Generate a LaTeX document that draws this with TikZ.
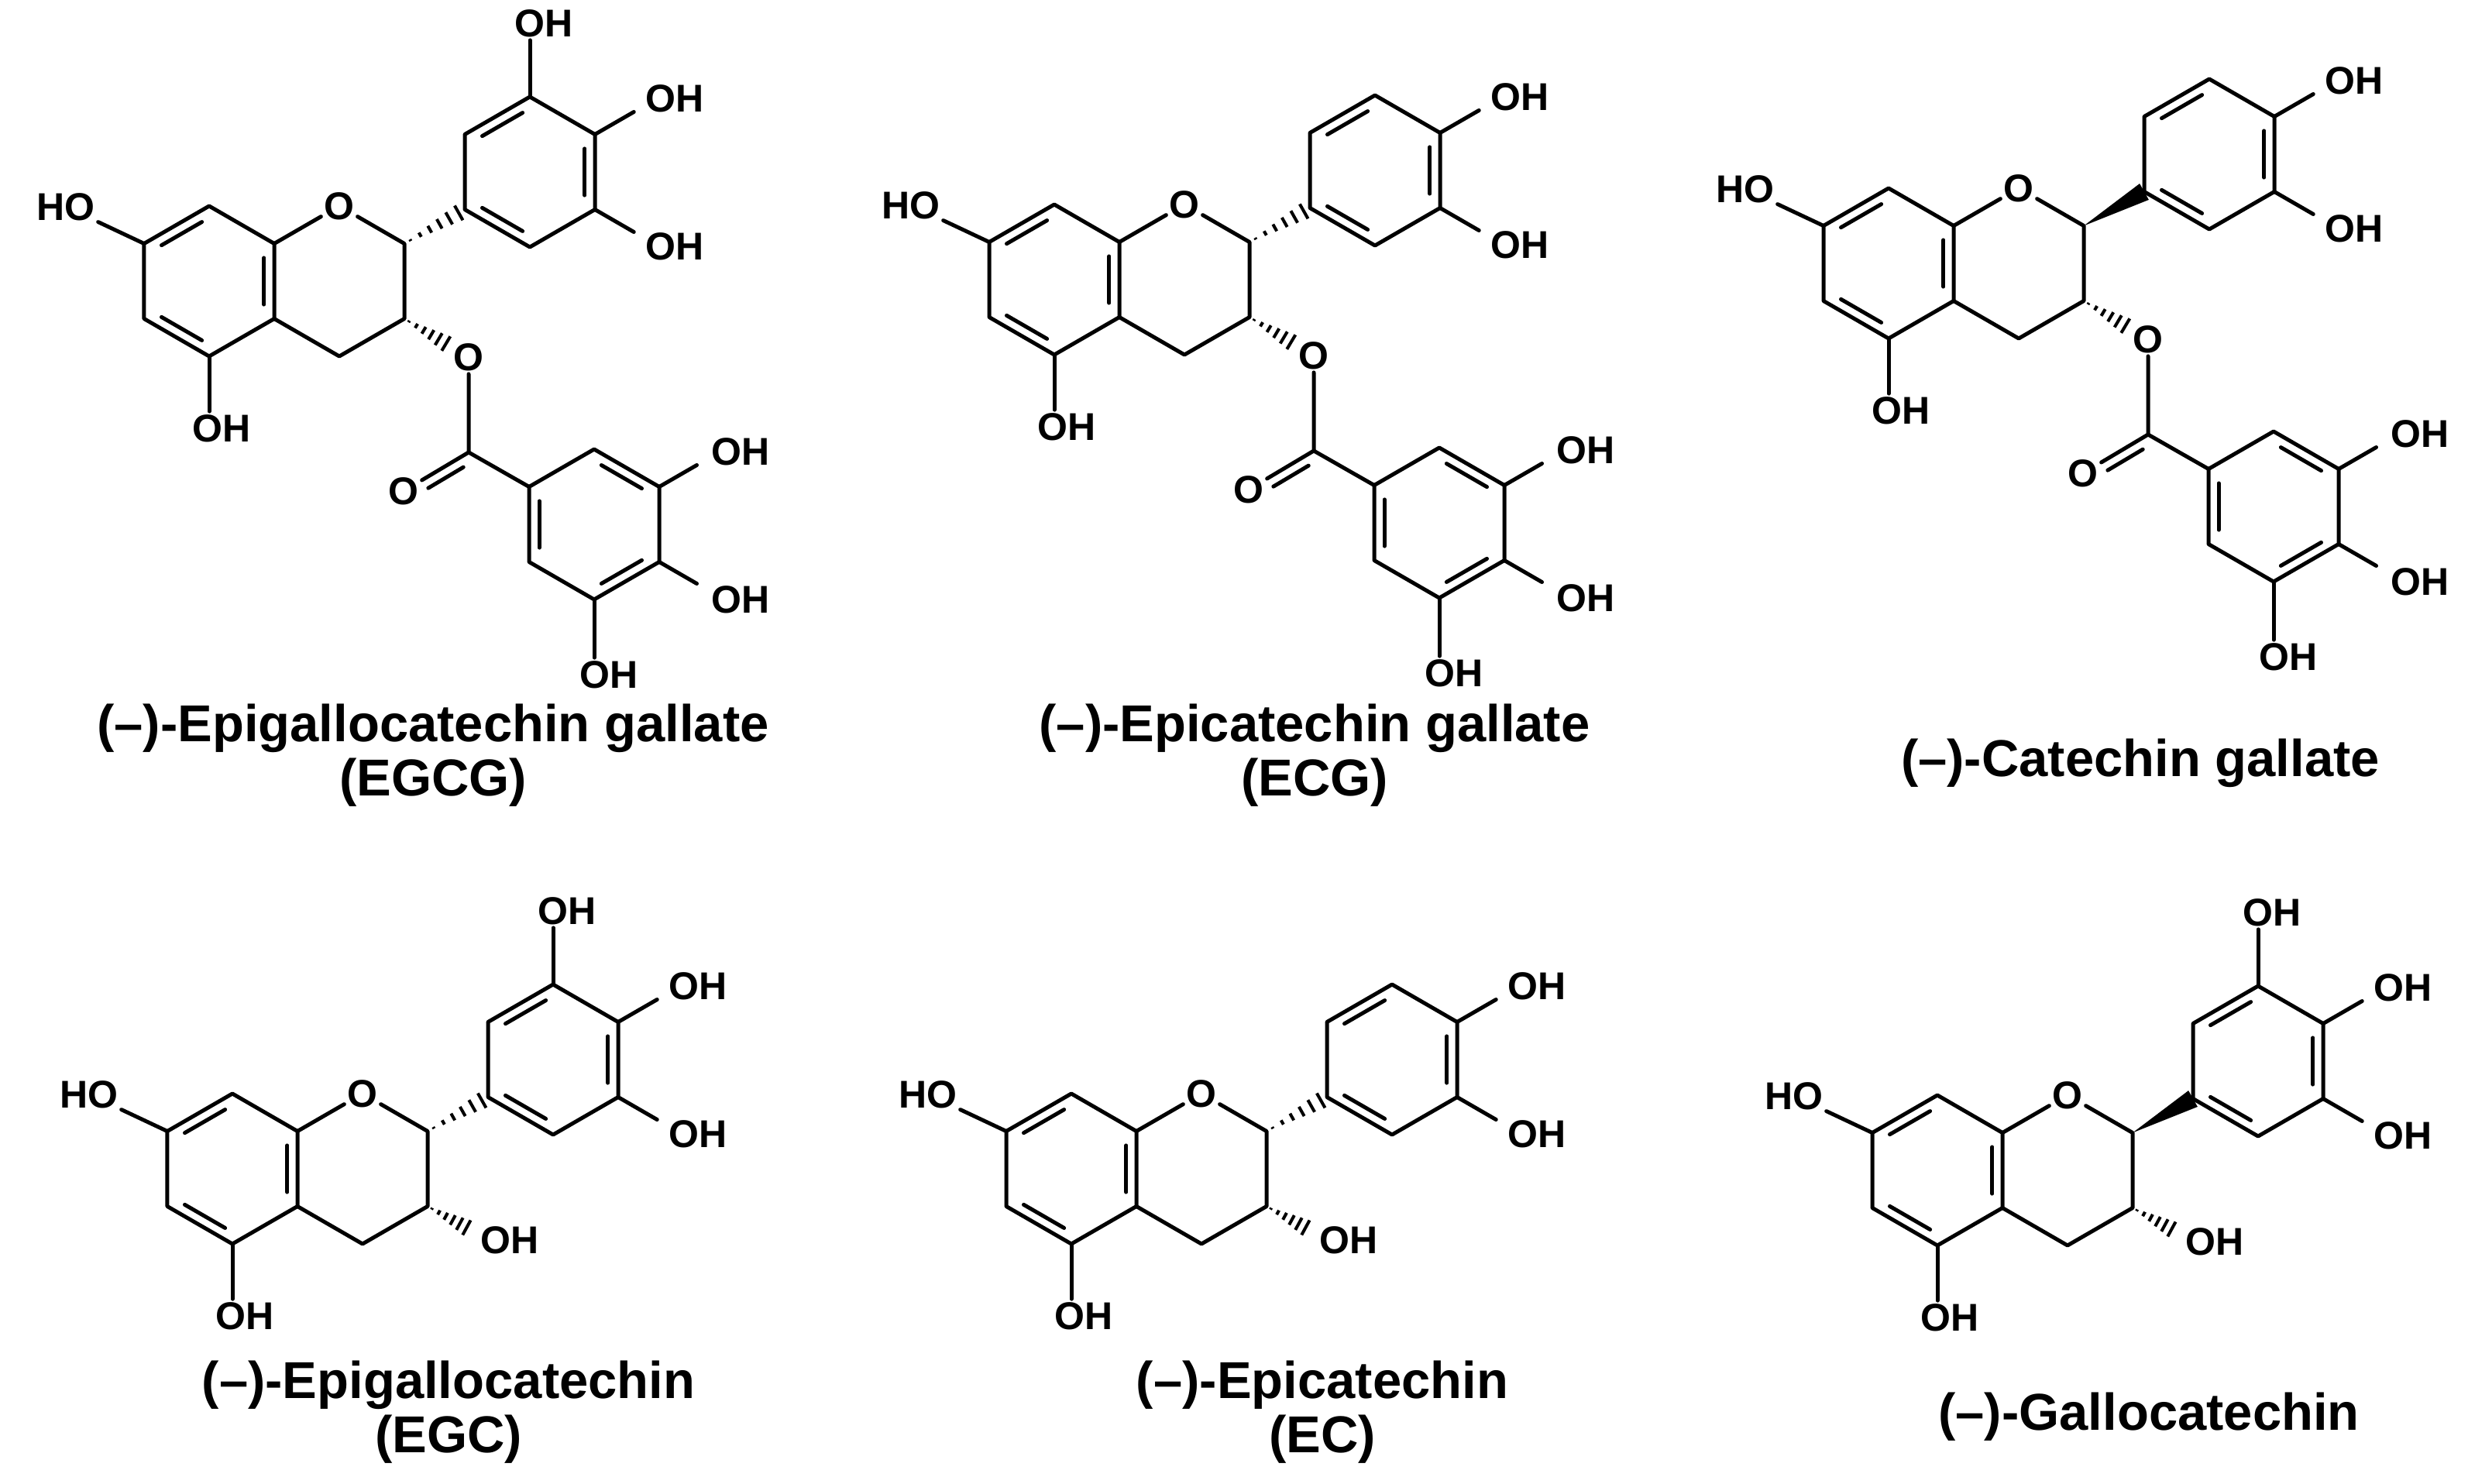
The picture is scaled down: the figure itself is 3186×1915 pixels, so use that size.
\documentclass[tikz,border=0pt]{standalone}
\usepackage{fontspec}
\setmainfont{Liberation Sans}
\usetikzlibrary{calc}
\tikzset{
  bond/.style={line width=5pt,line join=round,line cap=round},
  hashl/.style={line width=4pt},
  atom/.style={font=\fontsize{50}{50}\selectfont\bfseries,inner sep=4pt},
  title/.style={font=\fontsize{67}{70}\selectfont\bfseries,align=center},
}
\newcommand\dbl[2]{\draw[bond] ($#1+(#2+7:77)$) -- ($#1+(#2+53:77)$);}
\newcommand\hashb[2]{\foreach \t in {0.1,0.26,...,1.0}{\draw[hashl] ($(#1)!\t!(#2)!{\t*12pt}!90:(#2)$) -- ($(#1)!\t!(#2)!{\t*12pt}!-90:(#2)$);}}
\newcommand\wedgeb[2]{\fill ($(#1)$) -- ($(#2)!12pt!90:(#1)$) -- ($(#2)!12pt!-90:(#1)$) -- cycle;}
% chroman core, origin at ring O
\newcommand\Core[1]{%
  \foreach \n/\a in {t/90,ul/150,ll/210,b/270,lr/330,ur/30}{\coordinate (#1A\n) at ($(-168,-97)+(\a:97)$);}
  \draw[bond] (#1At)--(#1Aul)--(#1All)--(#1Ab)--(#1Alr)--(#1Aur)--cycle;
  \dbl{(-168,-97)}{90}\dbl{(-168,-97)}{-30}\dbl{(-168,-97)}{210}
  \node[atom] (#1O) at (0,0) {O};
  \coordinate (#1C2) at (84,-48.5);
  \coordinate (#1C3) at (84,-145.5);
  \coordinate (#1C4) at (0,-194);
  \draw[bond] (#1Aur) -- (#1O) -- (#1C2) -- (#1C3) -- (#1C4) -- (#1Alr);
  \node[atom] (#1HO) at (-353,-1) {HO};
  \draw[bond] (#1Aul) -- (#1HO);
  \node[atom] (#1OHa) at (-152,-287) {OH};
  \draw[bond] (#1Ab) -- (#1Ab |- #1OHa.north);
}
% B ring: #2 = 1 for pyrogallol (extra top OH)
\newcommand\RingB[2]{%
  \foreach \n/\a in {t/90,ul/150,ll/210,b/270,lr/330,ur/30}{\coordinate (#1B\n) at ($(246,44)+(\a:97)$);}
  \draw[bond] (#1Bt)--(#1Bul)--(#1Bll)--(#1Bb)--(#1Blr)--(#1Bur)--cycle;
  \dbl{(246,44)}{90}\dbl{(246,44)}{-30}\dbl{(246,44)}{210}
  \ifnum#2=1
    \node[atom] (#1OHt) at (264,236) {OH};
    \draw[bond] (#1Bt) -- (#1Bt |- #1OHt.south);
  \fi
  \node[atom] (#1OHur) at (433,139) {OH};
  \draw[bond] (#1Bur) -- ++(30:58) coordinate (#1eur);
  \node[atom] (#1OHlr) at (433,-52) {OH};
  \draw[bond] (#1Blr) -- ++(-30:58) coordinate (#1elr);
}
\newcommand\Gallate[1]{%
  \node[atom] (#1Oe) at (167,-195) {O};
  \coordinate (#1he) at ($(#1C3)!0.72!(#1Oe)$);
  \hashb{#1C3}{#1he}
  \foreach \n/\a in {t/90,ul/150,ll/210,b/270,lr/330,ur/30}{\coordinate (#1D\n) at ($(329,-411)+(\a:97)$);}
  \draw[bond] (#1Dt)--(#1Dul)--(#1Dll)--(#1Db)--(#1Dlr)--(#1Dur)--cycle;
  \dbl{(329,-411)}{30}\dbl{(329,-411)}{150}\dbl{(329,-411)}{270}
  \coordinate (#1Cc) at (167,-318);
  \draw[bond] (#1Oe) -- (#1Cc) -- (#1Dul);
  \node[atom] (#1Oc) at (83,-368) {O};
  \draw[bond] (#1Cc) -- (#1Oc);
  \draw[bond] ($(#1Cc)!0.16!(#1Oc)!13pt!90:(#1Oc)$) -- ($(#1Cc)!0.70!(#1Oc)!13pt!90:(#1Oc)$);
  \node[atom] (#1OHd1) at (518,-317) {OH};
  \draw[bond] (#1Dur) -- ++(30:56);
  \node[atom] (#1OHd2) at (518,-508) {OH};
  \draw[bond] (#1Dlr) -- ++(-30:56);
  \node[atom] (#1OHd3) at (348,-605) {OH};
  \draw[bond] (#1Db) -- (#1Db |- #1OHd3.north);
}
\newcommand\OHthree[1]{%
  \node[atom] (#1OH3) at (190,-189) {OH};
  \coordinate (#1h3) at (140,-176);
  \hashb{#1C3}{#1h3}
}
\begin{document}
\begin{tikzpicture}[x=1pt,y=1pt]
\useasboundingbox (0,0) rectangle (3186,-1915);
\fill[white] (0,0) rectangle (3186,-1915);
% EGCG
\begin{scope}[shift={(438,-266)}]
  \Core{a}\RingB{a}{1}\hashb{aC2}{aBll}\Gallate{a}
\end{scope}
\node[title] (tEGCG) at (559,-975) {(–)-Epigallocatechin gallate\\(EGCG)};
% ECG
\begin{scope}[shift={(1529,-264)}]
  \Core{b}\RingB{b}{0}\hashb{bC2}{bBll}\Gallate{b}
\end{scope}
\node[title] (tECG) at (1697,-975) {(–)-Epicatechin gallate\\(ECG)};
% CG
\begin{scope}[shift={(2606,-243)}]
  \Core{c}\RingB{c}{0}\wedgeb{cC2}{cBll}\Gallate{c}
\end{scope}
\node[title] (tCG) at (2763,-985) {(–)-Catechin gallate};
% EGC
\begin{scope}[shift={(468,-1412)}]
  \Core{d}\RingB{d}{1}\hashb{dC2}{dBll}\OHthree{d}
\end{scope}
\node[title] (tEGC) at (579,-1823) {(–)-Epigallocatechin\\(EGC)};
% EC
\begin{scope}[shift={(1551,-1412)}]
  \Core{e}\RingB{e}{0}\hashb{eC2}{eBll}\OHthree{e}
\end{scope}
\node[title] (tEC) at (1707,-1823) {(–)-Epicatechin\\(EC)};
% GC
\begin{scope}[shift={(2669,-1414)}]
  \Core{f}\RingB{f}{1}\wedgeb{fC2}{fBll}\OHthree{f}
\end{scope}
\node[title] (tGC) at (2774,-1829) {(–)-Gallocatechin};
\end{tikzpicture}
\end{document}
